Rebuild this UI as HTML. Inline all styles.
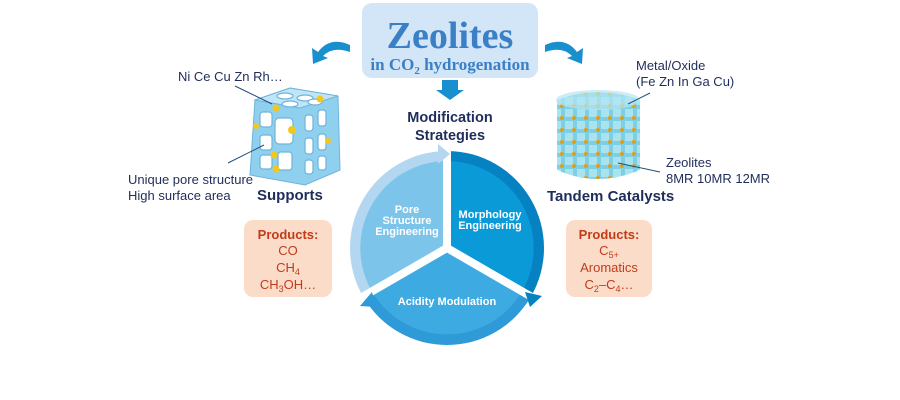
<!DOCTYPE html>
<html><head><meta charset="utf-8"><style>
body{margin:0;background:#fff;}
svg{display:block;font-family:"Liberation Sans",sans-serif;}
</style></head><body>
<svg width="900" height="400" viewBox="0 0 900 400" xmlns="http://www.w3.org/2000/svg">
<defs>
<pattern id="cyl" width="12" height="12" patternUnits="userSpaceOnUse">
<rect width="12" height="12" fill="#7fcfe4"/>
<rect x="1" y="1" width="8" height="8" fill="#a9e3f0"/>
<circle cx="10" cy="10" r="2" fill="#d9a21a"/>
</pattern>
</defs>
<!-- title -->
<rect x="362" y="3" width="176" height="75" rx="10" fill="#d3e6f8"/>
<text x="450" y="48" text-anchor="middle" font-family="Liberation Serif,serif" font-weight="bold" font-size="38" fill="#3b7fc6">Zeolites</text>
<text x="450" y="70" text-anchor="middle" font-family="Liberation Serif,serif" font-weight="bold" font-size="17" fill="#3b7fc6">in CO<tspan font-size="11" dy="4">2</tspan><tspan dy="-4"> hydrogenation</tspan></text>
<path d="M442 80 L458 80 L458 90 L464 90 L450 100 L436 90 L442 90 Z" fill="#1a8fd0"/>
<text x="450" y="122" text-anchor="middle" font-weight="bold" font-size="14.5" fill="#1f2d5a">Modification</text>
<text x="450" y="140" text-anchor="middle" font-weight="bold" font-size="14.5" fill="#1f2d5a">Strategies</text>
<!-- curved arrows -->
<path d="M350 45 Q330 36 318 52 L312 48 L313 64 L328 58 L323 56 Q333 46 350 52 Z" fill="#1a8fd0"/>
<path d="M545 45 Q565 36 577 52 L583 48 L582 64 L567 58 L572 56 Q562 46 545 52 Z" fill="#1a8fd0"/>
<!-- pie -->
<path d="M447 248 L447 151 A97 97 0 0 0 363 296.5 Z" fill="#b3d7f0"/>
<path d="M447 248 L447 151 A97 97 0 0 1 531 296.5 Z" fill="#0681c2"/>
<path d="M447 248 L531 296.5 A97 97 0 0 1 363 296.5 Z" fill="#2f9ad8"/>
<path d="M447 248 L447 161 A87 87 0 0 0 372 291.5 Z" fill="#7cc4ea"/>
<path d="M447 248 L447 161 A87 87 0 0 1 522 291.5 Z" fill="#0b9ad8"/>
<path d="M447 248 L522 291.5 A87 87 0 0 1 372 291.5 Z" fill="#3eaae2"/>
<g stroke="#fff" stroke-width="8">
<line x1="447" y1="250" x2="447" y2="145"/>
<line x1="447" y1="248" x2="357" y2="300"/>
<line x1="447" y1="248" x2="537" y2="300"/>
</g>
<path d="M438 144 L450 154 L438 164 Z" fill="#b3d7f0"/>
<path d="M525 292 L542 296 L530 307 Z" fill="#0681c2"/>
<path d="M372 292 L360 306 L376 307 Z" fill="#2f9ad8"/>
<g fill="#fff" font-weight="bold" font-size="11" text-anchor="middle">
<text x="407" y="213">Pore</text><text x="407" y="224">Structure</text><text x="407" y="235">Engineering</text>
<text x="490" y="218">Morphology</text><text x="490" y="229">Engineering</text>
<text x="447" y="305">Acidity Modulation</text>
</g>
<!-- left zeolite cube -->
<g>
<path d="M255 100 L290 88 L338 96 L340 170 L305 185 L250 175 Z" fill="#8fd0ee" stroke="#6fb3db"/>
<path d="M255 100 L290 88 L338 96 L300 108 Z" fill="#bfe6f8" stroke="#6fb3db"/>
<g fill="#fff" stroke="#6fb3db" stroke-width="1.2">
<rect x="260" y="112" width="12" height="15" rx="3"/><rect x="275" y="118" width="18" height="26" rx="4"/><rect x="260" y="135" width="12" height="15" rx="3"/><rect x="260" y="155" width="12" height="14" rx="3"/><rect x="278" y="152" width="14" height="18" rx="3"/>
<rect x="305" y="115" width="8" height="16" rx="3"/><rect x="318" y="110" width="8" height="16" rx="3"/><rect x="305" y="138" width="8" height="16" rx="3"/><rect x="318" y="134" width="8" height="16" rx="3"/><rect x="305" y="160" width="8" height="14" rx="3"/><rect x="318" y="156" width="8" height="14" rx="3"/>
<ellipse cx="285" cy="96" rx="8" ry="3"/><ellipse cx="305" cy="98" rx="8" ry="3"/><ellipse cx="290" cy="104" rx="8" ry="3"/><ellipse cx="315" cy="102" rx="7" ry="3"/>
</g>
<g fill="#f2c81d"><circle cx="276" cy="108" r="3.5"/><circle cx="320" cy="99" r="3.5"/><circle cx="256" cy="126" r="3"/><circle cx="292" cy="130" r="4"/><circle cx="328" cy="141" r="3"/><circle cx="274" cy="155" r="3.5"/><circle cx="276" cy="169" r="3.5"/></g>
</g>
<line x1="272" y1="104" x2="235" y2="86" stroke="#1f4d7a" stroke-width="1"/>
<line x1="264" y1="145" x2="228" y2="163" stroke="#1f4d7a" stroke-width="1"/>
<g fill="#1f2d5a" font-size="13">
<text x="178" y="81">Ni Ce Cu Zn Rh…</text>
<text x="128" y="184">Unique pore structure</text>
<text x="128" y="200">High surface area</text>
</g>
<text x="257" y="200" font-weight="bold" font-size="15" fill="#1f2d5a">Supports</text>
<rect x="244" y="220" width="88" height="77" rx="9" fill="#fbdcc9"/>
<g fill="#c23b1a" font-size="13" text-anchor="middle">
<text x="288" y="239" font-weight="bold">Products:</text>
<text x="288" y="255">CO</text>
<text x="288" y="272">CH<tspan font-size="9" dy="3">4</tspan></text>
<text x="288" y="289">CH<tspan font-size="9" dy="3">3</tspan><tspan dy="-3">OH…</tspan></text>
</g>
<!-- right cylinder -->
<path d="M557 100 Q598 84 640 100 L640 170 Q598 188 557 170 Z" fill="url(#cyl)"/>
<ellipse cx="598" cy="100" rx="42" ry="10" fill="#b5e6f2" opacity="0.7"/>
<line x1="628" y1="104" x2="650" y2="93" stroke="#1f4d7a"/>
<line x1="618" y1="163" x2="660" y2="172" stroke="#1f4d7a"/>
<g fill="#1f2d5a" font-size="13">
<text x="636" y="70">Metal/Oxide</text>
<text x="636" y="86">(Fe Zn In Ga Cu)</text>
<text x="666" y="167">Zeolites</text>
<text x="666" y="183">8MR 10MR 12MR</text>
</g>
<text x="547" y="201" font-weight="bold" font-size="15" fill="#1f2d5a">Tandem Catalysts</text>
<rect x="566" y="220" width="86" height="77" rx="9" fill="#fbdcc9"/>
<g fill="#c23b1a" font-size="13" text-anchor="middle">
<text x="609" y="239" font-weight="bold">Products:</text>
<text x="609" y="255">C<tspan font-size="9" dy="3">5+</tspan></text>
<text x="609" y="272">Aromatics</text>
<text x="609" y="289">C<tspan font-size="9" dy="3">2</tspan><tspan dy="-3">–C</tspan><tspan font-size="9" dy="3">4</tspan><tspan dy="-3">…</tspan></text>
</g>
</svg>
</body></html>
